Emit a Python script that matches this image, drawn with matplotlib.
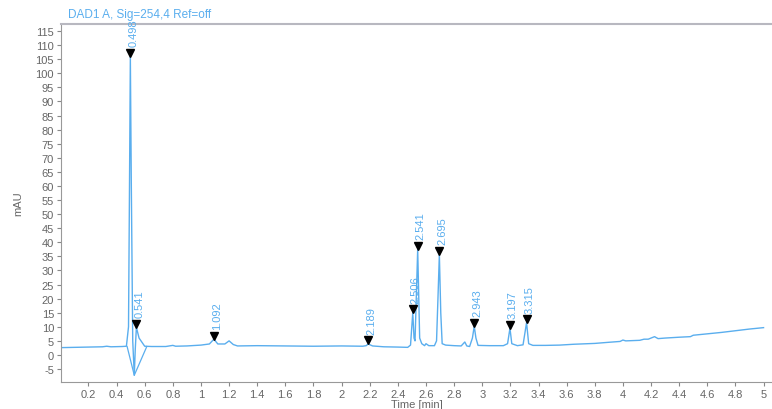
import matplotlib
matplotlib.use("Agg")
import matplotlib.pyplot as plt
import matplotlib.transforms as mtransforms
from matplotlib.ticker import FixedLocator, FormatStrFormatter

plt.rcParams['font.family'] = ['Liberation Sans', 'DejaVu Sans']

# Chromatogram trace (time [min], signal [mAU])
trace_t = [0.00, 0.10, 0.20, 0.30, 0.33, 0.36, 0.44, 0.47,
           0.485, 0.492, 0.498, 0.505, 0.515, 0.526, 0.533, 0.541, 0.56, 0.60,
           0.65, 0.75, 0.80, 0.82, 0.90, 1.00, 1.06, 1.092, 1.12, 1.17, 1.20, 1.23,
           1.26, 1.40, 1.60, 1.80, 2.00, 2.15, 2.175, 2.189, 2.22, 2.30, 2.40, 2.47,
           2.49, 2.506, 2.515, 2.522, 2.541, 2.555, 2.57, 2.59, 2.60, 2.62, 2.66,
           2.675, 2.685, 2.695, 2.705, 2.715, 2.74, 2.80, 2.85, 2.876, 2.89, 2.91,
           2.93, 2.943, 2.955, 2.97, 3.05, 3.15, 3.18, 3.197, 3.21, 3.25, 3.29,
           3.315, 3.33, 3.36, 3.45, 3.55, 3.65, 3.80, 3.90, 3.98, 4.00, 4.02, 4.12,
           4.15, 4.18, 4.225, 4.25, 4.30, 4.40, 4.48, 4.50, 4.60, 4.70, 4.80, 4.90, 5.00]
trace_v = [2.6, 2.7, 2.8, 2.9, 3.1, 2.9, 3.0, 3.1,
           10, 60, 106, 60, 5, -7.2, 2, 9.8, 6, 3.1,
           3.0, 3.0, 3.4, 3.1, 3.2, 3.5, 3.9, 5.6, 3.9, 3.9, 5.0, 3.7,
           3.2, 3.3, 3.2, 3.1, 3.2, 3.1, 3.3, 3.9, 3.2, 2.9, 2.8, 2.7,
           3.5, 15, 6, 5, 37.5, 6, 4.0, 3.3, 4.0, 3.3, 3.3,
           5, 20, 35.7, 15, 4, 3.5, 3.3, 3.2, 4.6, 3.2, 3.0,
           6, 10.2, 6, 3.4, 3.3, 3.3, 4, 9.5, 4, 3.3, 3.6,
           11.5, 4, 3.4, 3.4, 3.5, 3.8, 4.1, 4.5, 4.8, 5.3, 5.0, 5.2,
           5.6, 5.6, 6.5, 5.8, 6.0, 6.3, 6.5, 7.0, 7.5, 8.0, 8.6, 9.2, 9.7]

# Integration baseline drawn under the 0.498/0.541 pair
base_t = [0.475, 0.526, 0.615]
base_v = [3.0, -7.2, 3.0]

# Labelled peaks
peak_t = [0.498, 0.541, 1.092, 2.189, 2.506, 2.541, 2.695, 2.943, 3.197, 3.315]
peak_v = [106, 9.8, 5.6, 3.9, 15, 37.5, 35.7, 10.2, 9.5, 11.5]
peak_labels = ["0.498", "0.541", "1.092", "2.189", "2.506", "2.541",
               "2.695", "2.943", "3.197", "3.315"]

x_ticks = [0.2, 0.4, 0.6, 0.8, 1, 1.2, 1.4, 1.6, 1.8, 2, 2.2, 2.4, 2.6, 2.8,
           3, 3.2, 3.4, 3.6, 3.8, 4, 4.2, 4.4, 4.6, 4.8, 5]
y_ticks = list(range(-5, 116, 5))

line_color = '#5aaeee'
grey = '#666666'

fig = plt.figure(figsize=(7.72, 4.10), dpi=100)
ax = fig.add_axes([61/772, 27/410, 1 - 61/772, (383 - 25)/410])

ax.plot(trace_t, trace_v, color=line_color, lw=1.0)
ax.plot(base_t, base_v, color=line_color, lw=0.9)

marker_tr = mtransforms.offset_copy(ax.transData, fig=fig, x=0, y=3.5, units='dots')
ax.plot(peak_t, peak_v, linestyle='none', marker='v', color='black',
        markersize=6, transform=marker_tr)
label_tr = mtransforms.offset_copy(ax.transData, fig=fig, x=3, y=10, units='dots')
for t, v, s in zip(peak_t, peak_v, peak_labels):
    ax.text(t, v, s, rotation=90, ha='center', va='bottom', fontsize=8,
            color=line_color, transform=label_tr)

ax.set_xlim(0.005, 5.06)
ax.set_ylim(-9.6, 117.5)
ax.xaxis.set_major_locator(FixedLocator(x_ticks))
ax.yaxis.set_major_locator(FixedLocator(y_ticks))
ax.xaxis.set_major_formatter(FormatStrFormatter('%g'))
ax.yaxis.set_major_formatter(FormatStrFormatter('%g'))
ax.tick_params(axis='both', colors='#888888', labelcolor=grey, labelsize=8,
               length=3, width=0.8, direction='out', pad=2)

ax.spines['right'].set_visible(False)
for side in ['left', 'bottom']:
    ax.spines[side].set_color('#999999')
    ax.spines[side].set_linewidth(0.8)
ax.spines['top'].set_color('#b8b8c0')
ax.spines['top'].set_linewidth(1.5)

ax.set_xlabel('Time [min]', fontsize=8, color=grey, labelpad=0)
ax.set_ylabel('mAU', fontsize=8, color=grey, labelpad=9)

fig.text(68/772, 1 - 15/410, 'DAD1 A, Sig=254,4 Ref=off', fontsize=8.5,
         color=line_color, ha='left', va='center')

fig.savefig('out.png', dpi=100, facecolor='white')
